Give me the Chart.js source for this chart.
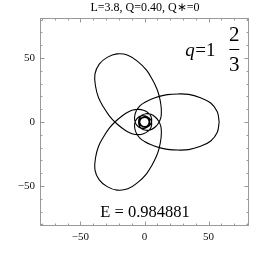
<!DOCTYPE html>
<html><head><meta charset="utf-8">
<script src="https://cdn.jsdelivr.net/npm/chart.js@4/dist/chart.umd.min.js"></script>
<style>html,body{margin:0;padding:0;background:#fff}#wrap{width:266px;height:258px}</style>
</head><body><div id="wrap"><canvas id="c" width="266" height="258"></canvas></div>
<script>
// ---- text ----
const titleText = 'L=3.8, Q=0.40, Q\u2217=0';
const energyText = 'E = 0.984881';
const qSymbol = 'q', qWhole = '1', qNum = '2', qDen = '3';

// ---- axes ----
const xRange = [-81.6, 81.6];
const yRange = [-81.25, 81.25];
const minorTicks = [-80,-70,-60,-50,-40,-30,-20,-10,0,10,20,30,40,50,60,70,80];
const majorTicks = [-50, 0, 50];
const majorLabels = ['\u221250', '0', '50'];

// ---- orbit (angle in degrees, radius) ----
const orbitAngleDeg = [
  0,-8,-16,-24,-32,-40,-50,-60,-75,-90,-106,-125,-145,-170,-200,-235,-275,-320,-370,-425,-480,
  -535,-590,-640,-685,-725,-760,-790,-815,-835,-854,-870,-885,-900,-910,-920,-928,-936,-944,-952,-960,
  -968,-976,-984,-992,-1000,-1010,-1020,-1035,-1050,-1066,-1085,-1105,-1130,-1160,-1195,-1235,-1280,-1330,-1385,-1440,
  -1495,-1550,-1600,-1645,-1685,-1720,-1750,-1775,-1795,-1814,-1830,-1845,-1860,-1870,-1880,-1888,-1896,-1904,-1912,-1920,
  -1928,-1936,-1944,-1952,-1960,-1970,-1980,-1995,-2010,-2026,-2045,-2065,-2090,-2120,-2155,-2195,-2240,-2290,-2345,-2400,
  -2455,-2510,-2560,-2605,-2645,-2680,-2710,-2735,-2755,-2774,-2790,-2805,-2820,-2830,-2840,-2848,-2856,-2864,-2872,-2880
];
const orbitRadius = [
  58.3,57.4,53.8,47.2,40.7,34.1,27.9,23.1,18.2,15.2,13.1,10.9,9.2,7.8,6.6,5.6,4.9,4.4,4.0,3.7,3.55,
  3.7,4.0,4.4,4.9,5.6,6.6,7.8,9.2,10.9,13.1,15.2,18.2,23.1,27.9,34.1,40.7,47.2,53.8,57.4,58.3,
  57.4,53.8,47.2,40.7,34.1,27.9,23.1,18.2,15.2,13.1,10.9,9.2,7.8,6.6,5.6,4.9,4.4,4.0,3.7,3.55,
  3.7,4.0,4.4,4.9,5.6,6.6,7.8,9.2,10.9,13.1,15.2,18.2,23.1,27.9,34.1,40.7,47.2,53.8,57.4,58.3,
  57.4,53.8,47.2,40.7,34.1,27.9,23.1,18.2,15.2,13.1,10.9,9.2,7.8,6.6,5.6,4.9,4.4,4.0,3.7,3.55,
  3.7,4.0,4.4,4.9,5.6,6.6,7.8,9.2,10.9,13.1,15.2,18.2,23.1,27.9,34.1,40.7,47.2,53.8,57.4,58.3
];

const frameColor = '#999999';
const serif = '"Liberation Serif", "Times New Roman", serif';

const orbitPoints = orbitAngleDeg.map((a, i) => ({
  x: orbitRadius[i] * Math.cos(a * Math.PI / 180),
  y: orbitRadius[i] * Math.sin(a * Math.PI / 180)
}));

function labelFor(v) {
  const k = majorTicks.indexOf(v);
  return k >= 0 ? majorLabels[k] : '';
}

const framePlugin = {
  id: 'frameTicks',
  afterDatasetsDraw(chart) {
    const { ctx, chartArea: a, scales: { x, y } } = chart;
    ctx.save();
    ctx.strokeStyle = frameColor;
    ctx.lineWidth = 1;
    ctx.strokeRect(a.left + 0.5, a.top + 0.5, a.right - a.left - 1, a.bottom - a.top - 1);
    ctx.beginPath();
    minorTicks.forEach(v => {
      const len = majorTicks.includes(v) ? 4.5 : 2.5;
      const px = Math.round(x.getPixelForValue(v)) + 0.5;
      ctx.moveTo(px, a.bottom); ctx.lineTo(px, a.bottom - len);
      ctx.moveTo(px, a.top); ctx.lineTo(px, a.top + len);
      const py = Math.round(y.getPixelForValue(v)) + 0.5;
      ctx.moveTo(a.left, py); ctx.lineTo(a.left + len, py);
      ctx.moveTo(a.right, py); ctx.lineTo(a.right - len, py);
    });
    ctx.stroke();
    ctx.restore();
  },
  afterDraw(chart) {
    const { ctx } = chart;
    ctx.save();
    ctx.fillStyle = '#000';
    ctx.textBaseline = 'alphabetic';
    ctx.textAlign = 'center';
    ctx.font = '12px ' + serif;
    ctx.fillText(titleText, 145, 10.5);
    ctx.font = '16.5px ' + serif;
    ctx.fillText(energyText, 145, 216.5);
    ctx.font = 'italic 19px ' + serif;
    ctx.fillText(qSymbol, 190, 56);
    ctx.font = '19px ' + serif;
    ctx.fillText('=', 200.5, 56);
    ctx.fillText(qWhole, 210.8, 56);
    ctx.font = '21px ' + serif;
    ctx.fillText(qNum, 234.3, 41);
    ctx.fillText(qDen, 234.3, 71);
    ctx.fillRect(229.3, 49, 10, 1);
    ctx.restore();
  }
};

new Chart(document.getElementById('c'), {
  type: 'scatter',
  data: {
    datasets: [{
      data: orbitPoints,
      showLine: true,
      borderColor: '#000',
      borderWidth: 1.1,
      pointRadius: 0,
      tension: 0.4,
      fill: false
    }]
  },
  options: {
    responsive: false,
    animation: false,
    devicePixelRatio: 1,
    layout: { padding: { top: 18, right: 17, left: 0, bottom: 0 } },
    plugins: { legend: { display: false }, tooltip: { enabled: false }, title: { display: false } },
    scales: {
      x: {
        type: 'linear', min: xRange[0], max: xRange[1],
        grid: { display: false, drawTicks: false },
        border: { display: false },
        ticks: {
          stepSize: 10, autoSkip: false, maxRotation: 0, padding: 5,
          color: '#111', font: { family: serif, size: 11 },
          callback: v => labelFor(v)
        },
        afterFit: s => { s.height = 32; }
      },
      y: {
        type: 'linear', min: yRange[0], max: yRange[1],
        grid: { display: false, drawTicks: false },
        border: { display: false },
        ticks: {
          stepSize: 10, autoSkip: false, padding: 5,
          color: '#111', font: { family: serif, size: 11 },
          callback: v => labelFor(v)
        },
        afterFit: s => { s.width = 40; }
      }
    }
  },
  plugins: [framePlugin]
});
</script></body></html>
